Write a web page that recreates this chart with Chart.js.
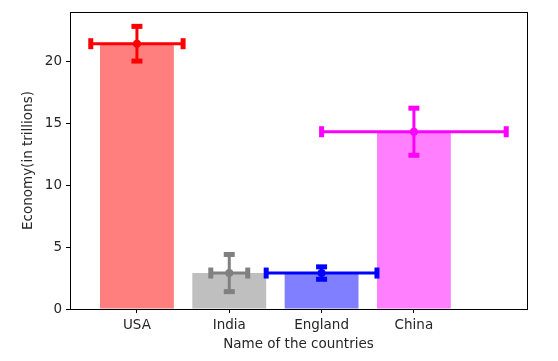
<!DOCTYPE html>
<html>
<head>
<meta charset="utf-8">
<script src="https://cdn.jsdelivr.net/npm/chart.js@4/dist/chart.umd.min.js"></script>
<style>
  html, body { margin: 0; padding: 0; background: #fff; }
  #wrap { width: 558px; height: 361px; }
</style>
</head>
<body>
<div id="wrap"><canvas id="chart"></canvas></div>
<script>
'use strict';

// values
const countries = ['USA', 'India', 'England', 'China']
const economy = [21.4, 2.9, 2.9, 14.3]
const yErr = [1.4, 1.5, 0.5, 1.9]
const xErr = [0.5, 0.2, 0.6, 1.0]
const yTicks = [0, 5, 10, 15, 20]

const lineColors = ['rgb(255, 0, 0)', 'rgb(128, 128, 128)', 'rgb(0, 0, 255)', 'rgb(255, 0, 255)']
const barColors = ['rgba(255, 0, 0, 0.5)', 'rgba(128, 128, 128, 0.5)', 'rgba(0, 0, 255, 0.5)', 'rgba(255, 0, 255, 0.5)']

const textColor = '#262626'
const font = { family: 'DejaVu Sans', size: 13.5 }

function errorDatasets() {
    var sets = []
    for (var i = 0; i < countries.length; i++) {
        var c = lineColors[i]
        // horizontal error
        sets.push({
            type: 'line',
            data: [{ x: i - xErr[i], y: economy[i] }, { x: i + xErr[i], y: economy[i] }],
            borderColor: c,
            borderWidth: 3,
            pointStyle: 'line',
            rotation: 90,
            pointRadius: 5.5,
            pointBorderWidth: 5,
            pointBorderColor: c,
            fill: false,
            order: 1
        })
        // vertical error
        sets.push({
            type: 'line',
            data: [{ x: i, y: economy[i] - yErr[i] }, { x: i, y: economy[i] + yErr[i] }],
            borderColor: c,
            borderWidth: 3,
            pointStyle: 'line',
            rotation: 0,
            pointRadius: 5.5,
            pointBorderWidth: 5,
            pointBorderColor: c,
            fill: false,
            order: 1
        })
        // centre marker
        sets.push({
            type: 'scatter',
            data: [{ x: i, y: economy[i] }],
            pointStyle: 'circle',
            pointRadius: 4,
            pointBackgroundColor: c,
            pointBorderColor: c,
            pointBorderWidth: 0,
            order: 0
        })
    }
    return sets
}

const frame = {
    id: 'frame',
    afterDatasetsDraw(chart) {
        var a = chart.chartArea
        var ctx = chart.ctx
        ctx.save()
        ctx.strokeStyle = '#000'
        ctx.lineWidth = 1
        ctx.strokeRect(Math.round(a.left) + 0.5, Math.round(a.top) + 0.5,
            Math.round(a.right - a.left), Math.round(a.bottom - a.top))
        ctx.restore()
    }
}

var ctx = document.getElementById('chart').getContext('2d')
new Chart(ctx, {
    type: 'bar',
    data: {
        datasets: [{
            type: 'bar',
            data: countries.map((c, i) => ({ x: i, y: economy[i] })),
            backgroundColor: barColors,
            borderWidth: 0,
            barPercentage: 0.8,
            categoryPercentage: 1.0,
            order: 10
        }].concat(errorDatasets())
    },
    options: {
        responsive: true,
        maintainAspectRatio: false,
        animation: false,
        layout: { padding: { top: 12, right: 31, left: 0, bottom: 0 } },
        plugins: {
            legend: { display: false },
            tooltip: { enabled: false }
        },
        scales: {
            x: {
                type: 'linear',
                offset: false,
                min: -0.725,
                max: 4.225,
                afterBuildTicks(scale) {
                    scale.ticks = countries.map((c, i) => ({ value: i }))
                },
                afterFit(scale) { scale.height = 52 },
                ticks: {
                    callback: (v) => countries[v],
                    color: textColor,
                    font: font,
                    padding: 4,
                    maxRotation: 0,
                    autoSkip: false
                },
                grid: {
                    offset: false,
                    drawOnChartArea: false,
                    tickLength: 4,
                    color: '#000'
                },
                border: { color: '#000' },
                title: {
                    display: true,
                    text: 'Name of the countries',
                    color: textColor,
                    font: font,
                    padding: { top: 0, bottom: 8 }
                }
            },
            y: {
                type: 'linear',
                min: 0,
                max: 23.95,
                afterBuildTicks(scale) {
                    scale.ticks = yTicks.map(v => ({ value: v }))
                },
                afterFit(scale) { scale.width = 70 },
                ticks: {
                    color: textColor,
                    font: font,
                    padding: 4
                },
                grid: {
                    drawOnChartArea: false,
                    tickLength: 4,
                    color: '#000'
                },
                border: { color: '#000' },
                title: {
                    display: true,
                    text: 'Economy(in trillions)',
                    color: textColor,
                    font: font,
                    padding: { top: 20, bottom: 0 }
                }
            }
        }
    },
    plugins: [frame]
})
</script>
</body>
</html>
